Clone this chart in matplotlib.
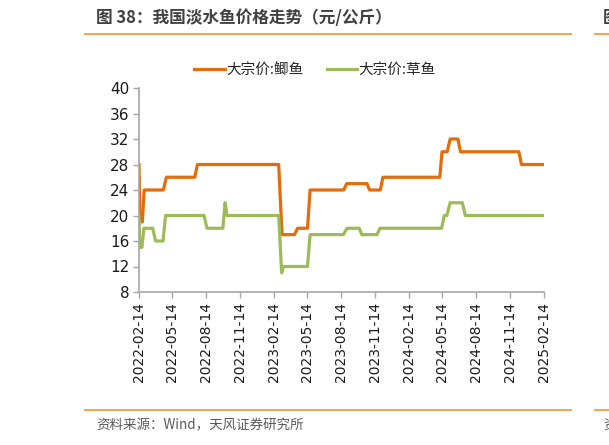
import numpy as np
import pandas as pd
import matplotlib
matplotlib.use('Agg')
import matplotlib.pyplot as plt
import matplotlib.dates as mdates
from matplotlib.lines import Line2D

plt.rcParams['font.family'] = ['Noto Sans CJK SC', 'DejaVu Sans']

# 大宗价:鲫鱼 (元/公斤), change points
crucian_dates = ['2022-02-14', '2022-02-16', '2022-02-21', '2022-02-23', '2022-02-28',
                 '2022-04-21', '2022-04-29', '2022-07-15', '2022-07-22', '2023-02-27',
                 '2023-03-08', '2023-04-11', '2023-04-19', '2023-05-16', '2023-05-23',
                 '2023-08-22', '2023-08-30', '2023-10-24', '2023-10-31', '2023-11-29',
                 '2023-12-06', '2024-05-08', '2024-05-14', '2024-05-28', '2024-06-05',
                 '2024-06-26', '2024-07-03', '2024-12-08', '2024-12-15', '2025-02-14']
crucian = [28, 20, 19, 19, 24,
           24, 26, 26, 28, 28,
           17, 17, 18, 18, 24,
           24, 25, 25, 24, 24,
           26, 26, 30, 30, 32,
           32, 30, 30, 28, 28]

# 大宗价:草鱼 (元/公斤)
grass_dates = ['2022-02-14', '2022-02-16', '2022-02-22', '2022-02-27', '2022-03-23',
               '2022-03-31', '2022-04-20', '2022-04-27', '2022-08-09', '2022-08-17',
               '2022-09-29', '2022-10-05', '2022-10-10', '2023-02-27', '2023-03-07',
               '2023-03-12', '2023-05-16', '2023-05-23', '2023-08-21', '2023-08-31',
               '2023-10-03', '2023-10-10', '2023-11-20', '2023-11-28', '2024-05-13',
               '2024-05-20', '2024-05-27', '2024-06-05', '2024-07-08', '2024-07-16',
               '2025-02-14']
grass = [20, 15, 15, 18, 18,
         16, 16, 20, 20, 18,
         18, 22, 20, 20, 11,
         12, 12, 17, 17, 18,
         18, 17, 17, 18, 18,
         20, 20, 22, 22, 20,
         20]

tick_dates = ['2022-02-14', '2022-05-14', '2022-08-14', '2022-11-14', '2023-02-14',
              '2023-05-14', '2023-08-14', '2023-11-14', '2024-02-14', '2024-05-14',
              '2024-08-14', '2024-11-14', '2025-02-14']
y_ticks = [8, 12, 16, 20, 24, 28, 32, 36, 40]

W, H = 609, 445
fig = plt.figure(figsize=(W / 100, H / 100), dpi=100)
ax = fig.add_axes([139 / W, 1 - 292 / H, 405 / W, 204 / H])

orange = '#E46C0A'
green = '#9BBB59'
ax.plot(pd.to_datetime(crucian_dates), crucian, color=orange, lw=2.3, label='大宗价:鲫鱼')
ax.plot(pd.to_datetime(grass_dates), grass, color=green, lw=2.3, label='大宗价:草鱼')

ax.set_xlim(pd.Timestamp('2022-02-14'), pd.Timestamp('2025-02-14'))
ax.set_ylim(8, 40)
ax.set_yticks(y_ticks)
ax.set_xticks(pd.to_datetime(tick_dates))
ax.xaxis.set_major_formatter(mdates.DateFormatter('%Y-%m-%d'))
for lab in ax.get_xticklabels():
    lab.set_rotation(90)
    lab.set_family('DejaVu Sans')
for lab in ax.get_yticklabels():
    lab.set_family('DejaVu Sans')
ax.tick_params(axis='both', color='#A6A6A6', length=4, width=1, labelcolor='#1a1a1a')
ax.tick_params(axis='x', labelsize=10, pad=3)
ax.tick_params(axis='y', labelsize=11, pad=3)

for s in ['top', 'right']:
    ax.spines[s].set_visible(False)
for s in ['left', 'bottom']:
    ax.spines[s].set_color('#A6A6A6')
    ax.spines[s].set_linewidth(1.2)

fig.legend(loc='center', bbox_to_anchor=(315 / W, 1 - 70 / H), ncol=2, frameon=False,
           fontsize=10.5, handlelength=2.1, handletextpad=0.1, columnspacing=1.6,
           labelcolor='#262626')

# header / footer
rule = '#F39A3C'
fig.add_artist(Line2D([85 / W, 571 / W], [1 - 33.5 / H] * 2, color=rule, lw=1.3))
fig.add_artist(Line2D([595 / W, 1], [1 - 33.5 / H] * 2, color=rule, lw=1.3))
fig.add_artist(Line2D([85 / W, 571 / W], [1 - 410 / H] * 2, color=rule, lw=1.3))
fig.add_artist(Line2D([595 / W, 1], [1 - 410 / H] * 2, color=rule, lw=1.3))

fig.text(96 / W, 1 - 18 / H, '图 38：我国淡水鱼价格走势（元/公斤）', fontsize=12,
         fontweight='bold', color='#404040', va='center', ha='left')
# edge of the neighbouring chart's caption, cut by the page edge as in the source
fig.text(603 / W, 1 - 18 / H, '图', fontsize=12, fontweight='bold', color='#404040',
         va='center', ha='left')
fig.text(96 / W, 1 - 425 / H, '资料来源：Wind，天风证券研究所', fontsize=9.7,
         color='#595959', va='center', ha='left')
fig.text(603 / W, 1 - 425 / H, '资', fontsize=9.7, color='#595959', va='center', ha='left')

fig.savefig('out.png', dpi=100)
